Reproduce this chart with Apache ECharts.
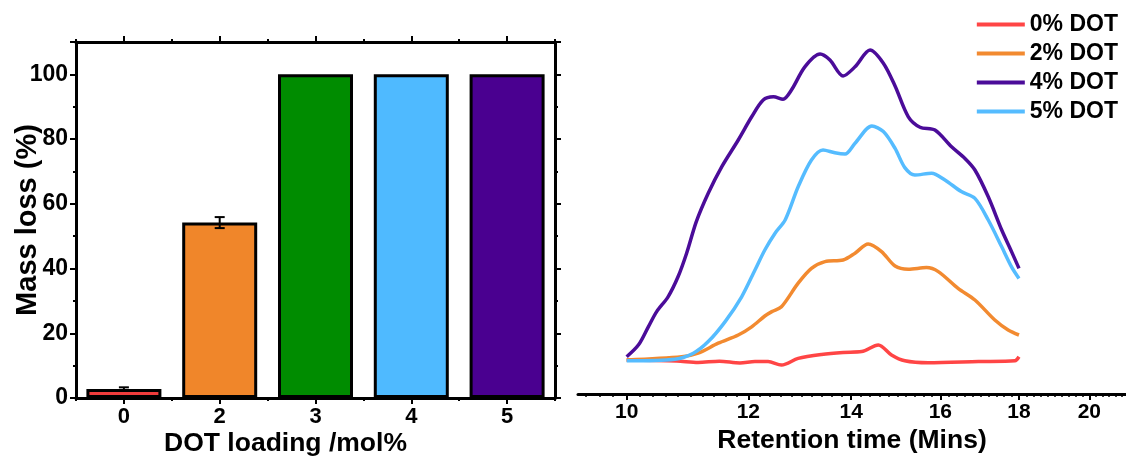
<!DOCTYPE html>
<html><head><meta charset="utf-8">
<script src="https://cdn.jsdelivr.net/npm/echarts@6/dist/echarts.min.js"></script>
<style>html,body{margin:0;padding:0;background:#fff}#c{width:1126px;height:460px}</style>
</head><body><div id="c"></div>
<script>
// ---- Left panel: mass loss bars ----
const barCategories = ['0', '2', '3', '4', '5'];
const massLoss = [2.8, 54.2, 100, 100, 100];
const massLossError = [0.5, 1.7, 0, 0, 0];
const barColors = ['#f03c3c', '#f0862a', '#008c00', '#4fbaff', '#4a0090'];
const massTickLabels = [0, 20, 40, 60, 80, 100];

// ---- Right panel: retention time traces [time (min), signal] ----
const retentionTickLabels = [10, 12, 14, 16, 18, 20];
const seriesNames = ['0% DOT', '2% DOT', '4% DOT', '5% DOT'];
const lineColors = ['#ff4545', '#f28a30', '#4b0c99', '#55bcff'];
const dot0 = [[10.00,8.5],[10.78,8.25],[11.13,7.9],[11.49,8.2],[11.85,7.75],[12.12,8.1],[12.36,8.1],[12.61,7.25],[12.93,8.9],[13.39,9.9],[13.83,10.4],[14.22,10.6],[14.58,12.25],[14.87,9.75],[15.17,8.3],[15.71,7.8],[16.94,8.1],[17.89,8.3],[18.00,9.3]];
const dot2 = [[10.00,8.5],[10.86,9.3],[11.13,10.2],[11.47,12.7],[11.82,14.75],[12.06,16.8],[12.30,19.5],[12.43,20.6],[12.61,21.8],[12.93,27.7],[13.19,31.4],[13.46,33.1],[13.83,33.5],[14.08,35.2],[14.36,37.5],[14.65,35.6],[14.95,32.0],[15.25,31.2],[15.67,31.6],[15.95,30.6],[16.43,26.4],[16.85,23.5],[17.36,18.5],[17.71,16.0],[18.00,14.75]];
const dot4 = [[10.00,9.3],[10.18,12.3],[10.33,16.8],[10.46,20.6],[10.64,24.3],[10.80,29.3],[10.94,35.2],[11.10,43.1],[11.30,50.2],[11.53,56.8],[11.82,63.5],[12.06,69.3],[12.27,73.5],[12.46,74.3],[12.64,73.7],[12.80,76.0],[13.06,81.8],[13.36,85.0],[13.56,83.5],[13.83,79.5],[14.08,81.8],[14.40,86.0],[14.69,82.7],[14.95,77.0],[15.25,69.3],[15.52,66.7],[15.87,66.0],[16.27,61.8],[16.60,58.9],[16.85,56.0],[17.19,49.3],[17.54,41.0],[17.80,35.6],[18.00,31.4]];
const dot5 = [[10.00,8.3],[10.75,8.7],[11.05,10.2],[11.30,13.1],[11.59,18.1],[11.88,24.3],[12.12,31.0],[12.30,36.0],[12.49,40.2],[12.68,43.5],[12.93,51.8],[13.19,58.5],[13.42,61.0],[13.66,60.3],[13.87,60.0],[14.08,62.7],[14.44,67.0],[14.69,65.6],[14.95,61.4],[15.17,56.6],[15.40,54.75],[15.79,55.2],[16.11,53.5],[16.51,50.6],[16.85,48.9],[17.19,43.5],[17.54,36.8],[17.80,31.8],[18.00,28.9]];
const traces = [dot0, dot2, dot4, dot5];

// minor tick positions on the retention axis (every 0.2 min)
const retentionMinorTicks = [];
for (let k = 47; k <= 105; k++) retentionMinorTicks.push(+(k * 0.2).toFixed(1));

const FONT = 'Liberation Sans, Arial, Helvetica, sans-serif';
const BLACK = '#000';
const txt = (size) => ({ fontFamily: FONT, fontWeight: 'bold', fontSize: size, color: BLACK });

const chart = echarts.init(document.getElementById('c'), null, { renderer: 'canvas' });

const catAxis = (position, centerTicks, showLabel, extra) => Object.assign({
  type: 'category', gridIndex: 0, position: position, data: barCategories,
  axisLine: { show: centerTicks, lineStyle: { color: BLACK, width: 3 } },
  axisTick: { show: true, alignWithLabel: centerTicks, inside: false, length: centerTicks ? 6 : 3, lineStyle: { color: BLACK, width: 2 } },
  axisLabel: Object.assign({ show: showLabel, margin: 8 }, txt(22)),
  splitLine: { show: false }
}, extra || {});

const option = {
  animation: false,
  backgroundColor: '#fff',
  grid: [
    { left: 76, top: 42, width: 479, height: 356, containLabel: false, outerBoundsMode: 'none' },
    { left: 578, right: 0, top: 14, bottom: 66, containLabel: false, outerBoundsMode: 'none' }
  ],
  legend: {
    data: seriesNames, orient: 'vertical', right: 3, top: 8,
    icon: 'rect', itemWidth: 48, itemHeight: 4, itemGap: 6,
    textStyle: Object.assign({ lineHeight: 23 }, txt(23))
  },
  xAxis: [
    catAxis('bottom', true, true, {
      name: 'DOT loading /mol%', nameLocation: 'middle', nameGap: 32, nameMoveOverlap: false,
      nameTextStyle: Object.assign({ padding: [0, 60, 0, 0] }, txt(26.5))
    }),
    catAxis('bottom', false, false),
    catAxis('top', true, false),
    catAxis('top', false, false),
    {
      type: 'log', gridIndex: 1, position: 'bottom', min: 9.297, max: 21.13,
      axisLine: { show: true, lineStyle: { color: BLACK, width: 3 } },
      axisTick: { show: true, inside: false, length: 6, customValues: retentionTickLabels, lineStyle: { color: BLACK, width: 2 } },
      axisLabel: Object.assign({ show: true, margin: 8, customValues: retentionTickLabels }, txt(21)),
      splitLine: { show: false }, minorTick: { show: false },
      name: 'Retention time (Mins)', nameLocation: 'middle', nameGap: 33, nameMoveOverlap: false,
      nameTextStyle: txt(26.5)
    },
    {
      type: 'log', gridIndex: 1, position: 'bottom', min: 9.297, max: 21.13,
      axisLine: { show: false },
      axisTick: { show: true, inside: false, length: 3, customValues: retentionMinorTicks, lineStyle: { color: BLACK, width: 1.5 } },
      axisLabel: { show: false }, splitLine: { show: false }
    }
  ],
  yAxis: [
    {
      type: 'value', gridIndex: 0, position: 'left', min: 0, max: 110, interval: 20,
      axisLine: { show: true, lineStyle: { color: BLACK, width: 3 } },
      axisTick: { show: true, inside: false, length: 6, lineStyle: { color: BLACK, width: 2 } },
      minorTick: { show: true, splitNumber: 2, length: 3, lineStyle: { color: BLACK, width: 2 } },
      axisLabel: Object.assign({ margin: 8, formatter: v => (massTickLabels.indexOf(v) >= 0 ? String(v) : '') }, txt(23)),
      splitLine: { show: false },
      name: 'Mass loss (%)', nameLocation: 'middle', nameGap: 34, nameMoveOverlap: false,
      nameTextStyle: txt(29)
    },
    {
      type: 'value', gridIndex: 0, position: 'right', min: 0, max: 110, interval: 20,
      axisLine: { show: true, lineStyle: { color: BLACK, width: 3 } },
      axisTick: { show: true, inside: false, length: 6, lineStyle: { color: BLACK, width: 2 } },
      minorTick: { show: true, splitNumber: 2, length: 3, lineStyle: { color: BLACK, width: 2 } },
      axisLabel: { show: false }, splitLine: { show: false }
    },
    { type: 'value', gridIndex: 1, min: 0, max: 95, show: false, splitLine: { show: false } }
  ],
  series: [
    {
      type: 'bar', xAxisIndex: 0, yAxisIndex: 0, barWidth: 75, z: 2,
      data: massLoss.map((v, i) => ({ value: v, itemStyle: { color: barColors[i], borderColor: BLACK, borderWidth: 3 } }))
    },
    {
      type: 'custom', xAxisIndex: 0, yAxisIndex: 0, z: 10,
      data: massLoss.map((v, i) => [i, v - massLossError[i], v + massLossError[i]]).filter((d, i) => massLossError[i] > 0),
      renderItem: function (params, api) {
        const i = api.value(0);
        const lo = api.coord([i, api.value(1)]);
        const hi = api.coord([i, api.value(2)]);
        const w = 5;
        const st = { stroke: BLACK, lineWidth: 2 };
        return { type: 'group', children: [
          { type: 'line', shape: { x1: lo[0], y1: lo[1], x2: hi[0], y2: hi[1] }, style: st },
          { type: 'line', shape: { x1: lo[0] - w, y1: lo[1], x2: lo[0] + w, y2: lo[1] }, style: st },
          { type: 'line', shape: { x1: hi[0] - w, y1: hi[1], x2: hi[0] + w, y2: hi[1] }, style: st }
        ] };
      }
    }
  ].concat(traces.map((d, i) => ({
    name: seriesNames[i], type: 'line', xAxisIndex: 4, yAxisIndex: 2,
    data: d, symbol: 'none', showSymbol: false, smooth: 0.3,
    itemStyle: { color: lineColors[i] },
    lineStyle: { color: lineColors[i], width: 3.5 }
  })))
};
chart.setOption(option);
</script>
</body></html>
